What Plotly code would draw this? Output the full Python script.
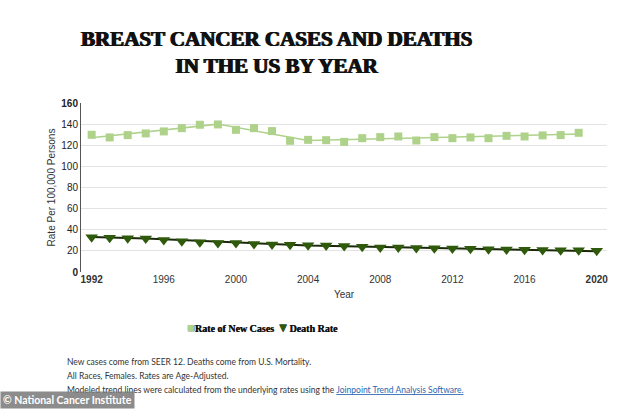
import plotly.graph_objects as go

years = list(range(1992, 2021))
case_years = list(range(1992, 2020))
new_cases = [129.9, 127.4, 129.6, 131.2, 133.1, 136.2, 139.4, 139.7, 134.6, 136.2,
             133.4, 124.2, 125.1, 124.8, 123.2, 126.7, 127.7, 128.3, 124.5, 127.7,
             126.7, 127.4, 126.7, 128.9, 128.3, 129.3, 129.6, 131.8]
death_rate = [33.0, 32.5, 32.0, 31.8, 30.4, 29.0, 28.2, 27.4, 27.4, 26.6,
              26.0, 25.7, 25.3, 25.2, 24.5, 23.9, 23.3, 23.1, 22.8, 22.5,
              22.2, 21.9, 21.6, 21.4, 21.1, 20.8, 20.7, 20.5, 20.2]
case_trend_years = [1992, 1999, 2004, 2019]
case_trend = [127.0, 140.0, 124.5, 130.6]
death_trend_years = [1992, 1995, 2004, 2020]
death_trend = [33.2, 31.6, 25.0, 19.6]

x_ticks = [1992, 1996, 2000, 2004, 2008, 2012, 2016, 2020]
x_ticktext = ["<b>1992</b>", "1996", "2000", "2004", "2008", "2012", "2016", "<b>2020</b>"]
y_ticks = [0, 20, 40, 60, 80, 100, 120, 140, 160]
y_ticktext = ["<b>0</b>", "20", "40", "60", "80", "100", "120", "140", "<b>160</b>"]

light = "#aed28a"
dark = "#2f5a0c"

fig = go.Figure()
fig.add_trace(go.Scatter(x=case_trend_years, y=case_trend, mode="lines",
                         line=dict(color=light, width=1.5), showlegend=False, hoverinfo="skip"))
fig.add_trace(go.Scatter(x=death_trend_years, y=death_trend, mode="lines",
                         line=dict(color="#1a2a08", width=2), showlegend=False, hoverinfo="skip"))
fig.add_trace(go.Scatter(x=case_years, y=new_cases, mode="markers", name="Rate of New Cases",
                         marker=dict(symbol="square", size=8, color=light), showlegend=False))
fig.add_trace(go.Scatter(x=years, y=death_rate, mode="markers", name="Death Rate",
                         marker=dict(symbol="triangle-down", size=11, color=dark), showlegend=False))

fig.update_layout(
    width=634, height=409,
    margin=dict(l=81, r=27, t=103, b=137),
    plot_bgcolor="white", paper_bgcolor="white",
    font=dict(family="Liberation Sans, Arial", size=10, color="#333"),
    showlegend=False,
    xaxis=dict(range=[1991.41, 2020.57], tickvals=x_ticks, ticktext=x_ticktext,
               showgrid=False, zeroline=False, showline=False, ticks="", automargin=False,
               tickfont=dict(size=10, color="#333"),
               title=dict(text="Year", font=dict(size=10, color="#333"), standoff=6)),
    yaxis=dict(range=[0, 160], tickvals=y_ticks, ticktext=y_ticktext, automargin=False,
               showgrid=True, gridcolor="#e3e3e3", gridwidth=1, zeroline=False,
               showline=True, linecolor="#555", linewidth=1, ticks="",
               tickfont=dict(size=10, color="#222"),
               title=dict(text="Rate Per 100,000 Persons", font=dict(size=10, color="#333"), standoff=3)),
)

fig.add_annotation(xref="paper", yref="paper", x=0.3726, y=1.30, xanchor="center", yanchor="middle",
                   text="<b>BREAST CANCER CASES AND DEATHS<br>IN THE US BY YEAR</b>",
                   showarrow=False,
                   font=dict(family="Liberation Serif", size=21, color="#111",
                             shadow="0.7px 0 0 #111, -0.7px 0 0 #111"))

# legend (as text)
fig.add_annotation(xref="paper", yref="paper", x=(262 - 81) / 526, y=(272 - 327) / 169,
                   xanchor="center", yanchor="middle", showarrow=False,
                   text=(f"<span style='color:{light};font-size:13px'>■</span><b>Rate of New Cases</b> "
                         f"<span style='color:{dark};font-size:13px'>▼</span><b>Death Rate</b>"),
                   font=dict(family="Liberation Serif", size=10, color="#111",
                             shadow="0.3px 0 0 #111"))

notes = [
    ("New cases come from SEER 12. Deaths come from U.S. Mortality.", 362),
    ("All Races, Females. Rates are Age-Adjusted.", 376),
    ("Modeled trend lines were calculated from the underlying rates using the "
     "<span style='color:#2a66b0;text-decoration:underline'>Joinpoint Trend Analysis Software.</span>", 390),
]
for txt, ypx in notes:
    fig.add_annotation(xref="paper", yref="paper", x=(65 - 81) / 526, y=(272 - ypx) / 169,
                       xanchor="left", yanchor="middle", text=txt, showarrow=False, align="left",
                       font=dict(family="Lato", size=8.5, color="#333"))

fig.add_annotation(xref="paper", yref="paper", x=-81 / 526, y=(272 - 409) / 169,
                   xanchor="left", yanchor="bottom", text="<b>© National Cancer Institute</b>",
                   showarrow=False, bgcolor="rgba(120,120,120,0.85)", borderpad=2,
                   font=dict(family="Lato", size=10.5, color="white"))

fig.write_html("out.html", config={"displayModeBar": False},
               post_script="document.body.style.margin='0';")
